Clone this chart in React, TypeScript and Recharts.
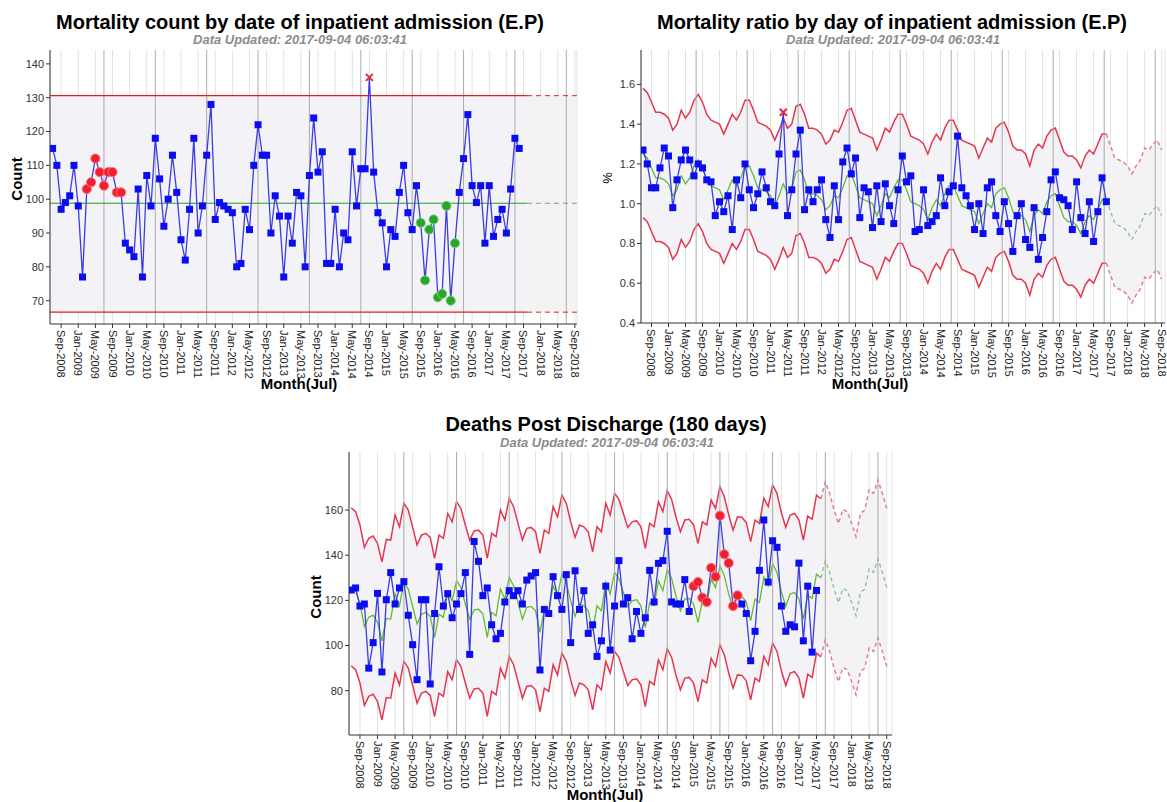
import React from 'react';
import {
  ComposedChart,
  Line,
  Area,
  XAxis,
  YAxis,
  CartesianGrid,
  ReferenceLine,
  ReferenceArea,
} from 'recharts';

// month index 0 = Jul-2008, 122 = Sep-2018
const tickLabels = [
  'Sep-2008', 'Jan-2009', 'May-2009', 'Sep-2009', 'Jan-2010', 'May-2010', 'Sep-2010',
  'Jan-2011', 'May-2011', 'Sep-2011', 'Jan-2012', 'May-2012', 'Sep-2012', 'Jan-2013',
  'May-2013', 'Sep-2013', 'Jan-2014', 'May-2014', 'Sep-2014', 'Jan-2015', 'May-2015',
  'Sep-2015', 'Jan-2016', 'May-2016', 'Sep-2016', 'Jan-2017', 'May-2017', 'Sep-2017',
  'Jan-2018', 'May-2018', 'Sep-2018',
];
const tickMonths = tickLabels.map((_, i) => 2 + 4 * i);
const julyMonths = [12, 24, 36, 48, 60, 72, 84, 96, 108, 120];
const lastMonth = 122;

// panel 1: mortality count
const admCounts = [
  115, 110, 97, 99, 101, 110, 98, 77, 103, 105,
  112, 108, 104, 108, 108, 102, 102, 87, 85, 83,
  103, 77, 107, 98, 118, 106, 92, 100, 113, 102,
  88, 82, 97, 118, 90, 98, 113, 128, 94, 99,
  98, 97, 96, 80, 81, 97, 91, 110, 122, 113,
  113, 90, 101, 95, 77, 95, 87, 102, 101, 80,
  107, 124, 108, 114, 81, 81, 97, 80, 90, 88,
  114, 98, 109, 109, 136, 108, 96, 93, 80, 91,
  89, 102, 110, 96, 91, 104, 93, 76, 91, 94,
  71, 72, 98, 70, 87, 102, 112, 125, 104, 99,
  104, 87, 104, 89, 94, 97, 90, 103, 118, 115,
];
const admCentre = 98.8;
const admUpper = 130.6;
const admLower = 66.6;
const admRedRun = [8, 16];
const admGreenRun = [86, 94];
const admOutlier = 74;

// panel 2: mortality ratio
const ratioValues = [
  1.27, 1.2, 1.08, 1.08, 1.18, 1.28, 1.24, 0.98, 1.12, 1.22,
  1.27, 1.22, 1.14, 1.2, 1.18, 1.12, 1.11, 0.94, 1.01, 0.96,
  1.04, 0.87, 1.12, 1.03, 1.2, 1.07, 0.98, 1.05, 1.16, 1.08,
  1.01, 0.99, 1.25, 1.46, 0.94, 1.07, 1.25, 1.37, 0.97, 1.07,
  1.01, 1.07, 1.12, 0.92, 0.83, 1.09, 0.92, 1.21, 1.28, 1.15,
  1.23, 0.93, 1.08, 1.06, 0.88, 1.09, 0.91, 1.1, 0.99, 0.9,
  1.07, 1.24, 1.11, 1.14, 0.86, 0.87, 1.07, 0.89, 0.91, 0.94,
  1.13, 0.99, 1.06, 1.09, 1.34, 1.08, 1.04, 0.99, 0.87, 1.0,
  0.85, 1.08, 1.11, 0.94, 0.86, 1.01, 0.9, 0.76, 0.94, 1.0,
  0.82, 0.78, 0.98, 0.72, 0.83, 0.96, 1.12, 1.16, 1.03, 1.02,
  0.99, 0.87, 1.11, 0.93, 0.85, 1.01, 0.81, 0.96, 1.13, 1.01,
];
const ratioUpper = [
  1.58, 1.56, 1.51, 1.46, 1.46, 1.45, 1.43, 1.37, 1.4, 1.47,
  1.43, 1.46, 1.52, 1.55, 1.51, 1.45, 1.42, 1.41, 1.4, 1.35,
  1.4, 1.45, 1.42, 1.46, 1.52, 1.52, 1.47, 1.41, 1.4, 1.39,
  1.37, 1.32, 1.37, 1.43, 1.38, 1.4, 1.49, 1.5, 1.45, 1.38,
  1.38, 1.37, 1.35, 1.3, 1.32, 1.37, 1.36, 1.41, 1.47, 1.48,
  1.42, 1.36, 1.35, 1.34, 1.33, 1.27, 1.32, 1.38, 1.36, 1.41,
  1.45, 1.45, 1.4, 1.34, 1.33, 1.32, 1.3, 1.25, 1.31, 1.35,
  1.32, 1.38, 1.42, 1.42, 1.37, 1.32, 1.31, 1.3, 1.29, 1.23,
  1.28, 1.33, 1.31, 1.38, 1.4, 1.41, 1.36, 1.29, 1.27, 1.27,
  1.25, 1.19, 1.27, 1.3, 1.28, 1.34, 1.37, 1.38, 1.32, 1.26,
  1.24, 1.24, 1.22, 1.18, 1.24, 1.27, 1.25, 1.3, 1.35, 1.35,
  1.29, 1.23, 1.22, 1.21, 1.19, 1.15, 1.19, 1.22, 1.28, 1.27,
  1.3, 1.32, 1.27,
];
const ratioExpected = [
  1.25, 1.23, 1.18, 1.13, 1.13, 1.12, 1.1, 1.04, 1.07, 1.14,
  1.1, 1.13, 1.19, 1.22, 1.18, 1.12, 1.09, 1.08, 1.07, 1.02,
  1.07, 1.12, 1.09, 1.13, 1.19, 1.19, 1.14, 1.08, 1.07, 1.06,
  1.04, 0.99, 1.04, 1.1, 1.05, 1.07, 1.16, 1.17, 1.12, 1.05,
  1.05, 1.04, 1.02, 0.97, 0.99, 1.04, 1.03, 1.08, 1.14, 1.15,
  1.09, 1.03, 1.02, 1.01, 1.0, 0.94, 0.99, 1.05, 1.03, 1.08,
  1.12, 1.12, 1.07, 1.01, 1.0, 0.99, 0.97, 0.92, 0.98, 1.02,
  0.99, 1.05, 1.09, 1.09, 1.04, 0.99, 0.98, 0.97, 0.96, 0.9,
  0.95, 1.0, 0.98, 1.05, 1.07, 1.08, 1.03, 0.96, 0.94, 0.94,
  0.92, 0.86, 0.94, 0.97, 0.95, 1.01, 1.04, 1.05, 0.99, 0.93,
  0.91, 0.91, 0.89, 0.85, 0.91, 0.94, 0.92, 0.97, 1.02, 1.02,
  0.96, 0.9, 0.89, 0.88, 0.86, 0.82, 0.86, 0.89, 0.95, 0.94,
  0.97, 0.99, 0.94,
];
const ratioLower = [
  0.93, 0.91, 0.86, 0.81, 0.81, 0.8, 0.78, 0.72, 0.75, 0.82,
  0.78, 0.81, 0.87, 0.9, 0.86, 0.8, 0.77, 0.76, 0.75, 0.7,
  0.75, 0.8, 0.77, 0.81, 0.87, 0.87, 0.82, 0.76, 0.75, 0.74,
  0.72, 0.67, 0.72, 0.78, 0.73, 0.75, 0.84, 0.85, 0.8, 0.73,
  0.73, 0.72, 0.7, 0.65, 0.67, 0.72, 0.71, 0.76, 0.82, 0.83,
  0.77, 0.71, 0.7, 0.69, 0.68, 0.62, 0.67, 0.73, 0.71, 0.76,
  0.8, 0.8, 0.75, 0.69, 0.68, 0.67, 0.65, 0.6, 0.66, 0.7,
  0.67, 0.73, 0.77, 0.77, 0.72, 0.67, 0.66, 0.65, 0.64, 0.58,
  0.63, 0.68, 0.66, 0.73, 0.75, 0.76, 0.71, 0.64, 0.62, 0.62,
  0.6, 0.54, 0.62, 0.65, 0.63, 0.69, 0.72, 0.73, 0.67, 0.61,
  0.59, 0.59, 0.57, 0.53, 0.59, 0.62, 0.6, 0.65, 0.7, 0.7,
  0.64, 0.58, 0.57, 0.56, 0.54, 0.5, 0.54, 0.57, 0.63, 0.62,
  0.65, 0.67, 0.62,
];
const ratioOutlier = 33;
const ratioSolidEnd = 109;

// panel 3: deaths post discharge
const deathValues = [
  124.6, 125.5, 117.5, 118.4, 90, 101.3, 123.1, 88.3, 120.3, 132.3,
  118.4, 125.5, 128.3, 113.4, 100.4, 84.9, 120.3, 120.3, 83, 114.2,
  134.9, 117.5, 123, 112.3, 118.4, 123, 132.3, 96.1, 146.1, 137.3,
  122.1, 125.5, 109.2, 103, 105.4, 119.3, 124.3, 122.1, 124.3, 118.4,
  129, 130.8, 132.3, 89.2, 116, 114.2, 130.5, 122.1, 116, 131.4,
  101.3, 133.1, 116, 124.3, 105.4, 109.2, 95.2, 102.1, 126.3, 98,
  117.5, 137.6, 118.4, 121.2, 103, 115.1, 105.4, 112.3, 133.3, 119.3,
  136.4, 137.6, 150.6, 119.3, 118.4, 118.4, 129.2, 115.1, 126.3, 128.1,
  121.2, 119.3, 134.4, 130.5, 157.5, 140.4, 136.5, 117.5, 122.2, 118.4,
  114.2, 93.3, 106.3, 133.3, 155.6, 128.1, 146.4, 143.5, 117.5, 106.3,
  109.2, 108.3, 136.5, 102.1, 126.3, 97.1, 124.4,
];
const deathUpper = [
  161.0, 159.3, 153.4, 143.5, 147.5, 148.5, 145.2, 137.1, 147.0, 146.7,
  157.8, 152.6, 163.0, 160.0, 152.3, 144.5, 148.9, 149.7, 147.9, 138.6,
  148.9, 147.5, 158.5, 154.8, 163.7, 160.7, 153.4, 146.7, 150.8, 151.1,
  148.9, 138.6, 149.7, 148.2, 160.0, 155.6, 165.2, 161.5, 154.1, 146.7,
  151.9, 152.3, 150.4, 140.8, 151.1, 149.7, 161.5, 157.0, 166.6, 163.0,
  154.8, 147.9, 153.4, 152.6, 150.4, 141.5, 152.6, 150.4, 163.0, 157.8,
  167.4, 164.7, 158.5, 152.3, 154.8, 155.3, 152.6, 143.0, 154.1, 152.6,
  163.7, 159.3, 168.6, 164.7, 156.8, 150.4, 155.6, 155.9, 153.4, 145.2,
  154.8, 153.4, 164.4, 160.7, 170.3, 165.9, 157.8, 151.1, 157.0, 156.8,
  154.4, 146.0, 155.6, 154.1, 165.2, 161.5, 171.1, 167.4, 158.8, 152.3,
  157.8, 158.5, 155.6, 146.7, 157.3, 155.9, 166.6, 165.0, 172.5, 167.4,
  160.0, 154.0, 160.3, 159.3, 154.0, 148.2, 158.5, 160.0, 168.9, 167.4,
  173.3, 167.4, 160.7,
];
const deathExpected = [
  126.0, 124.3, 118.4, 108.5, 112.5, 113.5, 110.2, 102.1, 112.0, 111.7,
  122.8, 117.6, 128.0, 125.0, 117.3, 109.5, 113.9, 114.7, 112.9, 103.6,
  113.9, 112.5, 123.5, 119.8, 128.7, 125.7, 118.4, 111.7, 115.8, 116.1,
  113.9, 103.6, 114.7, 113.2, 125.0, 120.6, 130.2, 126.5, 119.1, 111.7,
  116.9, 117.3, 115.4, 105.8, 116.1, 114.7, 126.5, 122.0, 131.6, 128.0,
  119.8, 112.9, 118.4, 117.6, 115.4, 106.5, 117.6, 115.4, 128.0, 122.8,
  132.4, 129.7, 123.5, 117.3, 119.8, 120.3, 117.6, 108.0, 119.1, 117.6,
  128.7, 124.3, 133.6, 129.7, 121.8, 115.4, 120.6, 120.9, 118.4, 110.2,
  119.8, 118.4, 129.4, 125.7, 135.3, 130.9, 122.8, 116.1, 122.0, 121.8,
  119.4, 111.0, 120.6, 119.1, 130.2, 126.5, 136.1, 132.4, 123.8, 117.3,
  122.8, 123.5, 120.6, 111.7, 122.3, 120.9, 131.6, 130.0, 137.5, 132.4,
  125.0, 119.0, 125.3, 124.3, 119.0, 113.2, 123.5, 125.0, 133.9, 132.4,
  138.3, 132.4, 125.7,
];
const deathLower = [
  91.0, 89.3, 83.4, 73.5, 77.5, 78.5, 75.2, 67.1, 77.0, 76.7,
  87.8, 82.6, 93.0, 90.0, 82.3, 74.5, 78.9, 79.7, 77.9, 68.6,
  78.9, 77.5, 88.5, 84.8, 93.7, 90.7, 83.4, 76.7, 80.8, 81.1,
  78.9, 68.6, 79.7, 78.2, 90.0, 85.6, 95.2, 91.5, 84.1, 76.7,
  81.9, 82.3, 80.4, 70.8, 81.1, 79.7, 91.5, 87.0, 96.6, 93.0,
  84.8, 77.9, 83.4, 82.6, 80.4, 71.5, 82.6, 80.4, 93.0, 87.8,
  97.4, 94.7, 88.5, 82.3, 84.8, 85.3, 82.6, 73.0, 84.1, 82.6,
  93.7, 89.3, 98.6, 94.7, 86.8, 80.4, 85.6, 85.9, 83.4, 75.2,
  84.8, 83.4, 94.4, 90.7, 100.3, 95.9, 87.8, 81.1, 87.0, 86.8,
  84.4, 76.0, 85.6, 84.1, 95.2, 91.5, 101.1, 97.4, 88.8, 82.3,
  87.8, 88.5, 85.6, 76.7, 87.3, 85.9, 96.6, 95.0, 102.5, 97.4,
  90.0, 84.0, 90.3, 89.3, 84.0, 78.2, 88.5, 90.0, 98.9, 97.4,
  103.3, 97.4, 90.7,
];
const deathRedRun = [78, 88];
const deathSolidEnd = 107;

const FONT = '"Liberation Sans", Arial, Helvetica, sans-serif';
const BLUE_LINE = '#3c3ce4';
const BLUE_MARK = '#0c0cf0';
const RED_LIMIT = '#e4364f';
const GREEN_LINE = '#62bb2e';
const BAND = '#f3f3f7';
const BAND_FORECAST = '#f3f3f3';
const GRID = '#e2e2e2';
const YEAR_LINE = '#ababab';

type Row = {
  m: number;
  value: number | null;
  upper?: number;
  expected?: number;
  lower?: number;
};

const buildRows = (values: number[], upper?: number[], expected?: number[], lower?: number[]): Row[] =>
  Array.from({ length: lastMonth + 1 }, (_, m) => ({
    m,
    value: m < values.length ? values[m] : null,
    upper: upper?.[m],
    expected: expected?.[m],
    lower: lower?.[m],
  }));

const inRun = (i: number, run: number[]) => i >= run[0] && i <= run[1];

type Kind = 'square' | 'red' | 'green' | 'cross';

const makeDot = (kindOf: (i: number) => Kind) => (props: any) => {
  const { cx, cy, index, value } = props;
  if (cx == null || cy == null || value == null) return <g key={`e${index}`} />;
  const kind = kindOf(index);
  if (kind === 'red') {
    return <circle key={`d${index}`} cx={cx} cy={cy} r={4.6} fill="#f0202e" stroke="#ff7080" strokeWidth={1} />;
  }
  if (kind === 'green') {
    return <circle key={`d${index}`} cx={cx} cy={cy} r={4.6} fill="#2aa52a" stroke="#80d080" strokeWidth={1} />;
  }
  if (kind === 'cross') {
    return (
      <g key={`d${index}`} stroke="#e8283c" strokeWidth={2}>
        <line x1={cx - 3.5} y1={cy - 3.5} x2={cx + 3.5} y2={cy + 3.5} />
        <line x1={cx - 3.5} y1={cy + 3.5} x2={cx + 3.5} y2={cy - 3.5} />
      </g>
    );
  }
  return <rect key={`d${index}`} x={cx - 3.5} y={cy - 3.5} width={7} height={7} fill={BLUE_MARK} />;
};

const MonthTick = (props: any) => {
  const { x, y, payload } = props;
  const label = tickLabels[tickMonths.indexOf(payload.value)] ?? '';
  return (
    <text
      x={x}
      y={y}
      dx={0}
      dy={4}
      transform={`rotate(90 ${x} ${y})`}
      fontSize={11}
      fill="#222"
      textAnchor="start"
    >
      {label}
    </text>
  );
};

const xAxisProps = {
  dataKey: 'm',
  type: 'number' as const,
  ticks: tickMonths,
  interval: 0 as const,
  allowDataOverflow: true,
  tick: <MonthTick />,
  tickSize: 4,
  stroke: '#333',
  height: 60,
};

const yTick = { fontSize: 11, fill: '#333' };

function CountChart() {
  const rows = buildRows(admCounts);
  const dot = makeDot((i) =>
    i === admOutlier ? 'cross' : inRun(i, admRedRun) ? 'red' : inRun(i, admGreenRun) ? 'green' : 'square'
  );
  return (
    <ComposedChart width={600} height={400} data={rows} margin={{ top: 50, right: 23, bottom: 16, left: 0 }}>
      <ReferenceArea x1={-0.6} x2={110.8} y1={admLower} y2={admUpper} fill={BAND} fillOpacity={1} stroke="none" />
      <ReferenceArea x1={110.8} x2={122.5} y1={admLower} y2={admUpper} fill={BAND_FORECAST} fillOpacity={1} stroke="none" />
      <CartesianGrid horizontal={false} stroke={GRID} />
      {julyMonths.map((m) => (
        <ReferenceLine key={m} x={m} stroke={YEAR_LINE} />
      ))}
      <XAxis {...xAxisProps} domain={[-0.6, 122.5]} />
      <YAxis
        type="number"
        domain={[63.1, 144.1]}
        ticks={[70, 80, 90, 100, 110, 120, 130, 140]}
        interval={0}
        allowDataOverflow
        width={50}
        tickSize={4}
        stroke="#333"
        tick={yTick}
      />
      <ReferenceLine segment={[{ x: -0.6, y: admUpper }, { x: 110.8, y: admUpper }]} stroke="#e02020" strokeWidth={1.4} />
      <ReferenceLine segment={[{ x: 110.8, y: admUpper }, { x: 122.5, y: admUpper }]} stroke="#e02020" strokeDasharray="5 4" />
      <ReferenceLine segment={[{ x: -0.6, y: admLower }, { x: 110.8, y: admLower }]} stroke="#e02020" strokeWidth={1.4} />
      <ReferenceLine segment={[{ x: 110.8, y: admLower }, { x: 122.5, y: admLower }]} stroke="#e02020" strokeDasharray="5 4" />
      <ReferenceLine segment={[{ x: -0.6, y: admCentre }, { x: 110.8, y: admCentre }]} stroke="#2a9a2a" />
      <ReferenceLine segment={[{ x: 110.8, y: admCentre }, { x: 122.5, y: admCentre }]} stroke="#7aa07a" strokeDasharray="5 4" />
      <Line
        dataKey="value"
        stroke={BLUE_LINE}
        strokeWidth={1.3}
        dot={dot}
        activeDot={false}
        isAnimationActive={false}
      />
    </ComposedChart>
  );
}

function limitSeries(solidEnd: number) {
  const solid = (key: 'upper' | 'expected' | 'lower') => (d: Row) => (d.m <= solidEnd ? d[key] ?? null : null);
  const dashed = (key: 'upper' | 'expected' | 'lower') => (d: Row) => (d.m >= solidEnd ? d[key] ?? null : null);
  return [
    <Area
      key="band"
      dataKey={(d: Row) => (d.m <= solidEnd ? [d.lower, d.upper] : null)}
      fill={BAND}
      fillOpacity={1}
      stroke="none"
      activeDot={false}
      isAnimationActive={false}
    />,
    <Area
      key="bandF"
      dataKey={(d: Row) => (d.m >= solidEnd ? [d.lower, d.upper] : null)}
      fill={BAND_FORECAST}
      fillOpacity={1}
      stroke="none"
      activeDot={false}
      isAnimationActive={false}
    />,
    <Line key="up" dataKey={solid('upper')} stroke={RED_LIMIT} strokeWidth={1.5} dot={false} activeDot={false} isAnimationActive={false} />,
    <Line key="lo" dataKey={solid('lower')} stroke={RED_LIMIT} strokeWidth={1.5} dot={false} activeDot={false} isAnimationActive={false} />,
    <Line key="ex" dataKey={solid('expected')} stroke={GREEN_LINE} strokeWidth={1.3} dot={false} activeDot={false} isAnimationActive={false} />,
    <Line key="upF" dataKey={dashed('upper')} stroke="#e4808f" strokeWidth={1.5} strokeDasharray="4 3" dot={false} activeDot={false} isAnimationActive={false} />,
    <Line key="loF" dataKey={dashed('lower')} stroke="#e4808f" strokeWidth={1.5} strokeDasharray="4 3" dot={false} activeDot={false} isAnimationActive={false} />,
    <Line key="exF" dataKey={dashed('expected')} stroke="#8abf9a" strokeWidth={1.3} strokeDasharray="4 3" dot={false} activeDot={false} isAnimationActive={false} />,
  ];
}

function RatioChart() {
  const rows = buildRows(ratioValues, ratioUpper, ratioExpected, ratioLower);
  const dot = makeDot((i) => (i === ratioOutlier ? 'cross' : 'square'));
  return (
    <ComposedChart width={577} height={400} data={rows} margin={{ top: 50, right: 2, bottom: 17, left: 0 }}>
      {limitSeries(ratioSolidEnd)}
      <CartesianGrid horizontal={false} stroke={GRID} />
      {julyMonths.map((m) => (
        <ReferenceLine key={m} x={m + 0.5} stroke={YEAR_LINE} />
      ))}
      <XAxis {...xAxisProps} domain={[-0.47, 122.8]} />
      <YAxis
        type="number"
        domain={[0.4, 1.773]}
        ticks={[0.4, 0.6, 0.8, 1.0, 1.2, 1.4, 1.6]}
        tickFormatter={(v: number) => v.toFixed(1)}
        interval={0}
        allowDataOverflow
        width={51}
        tickSize={4}
        stroke="#333"
        tick={yTick}
      />
      <Line dataKey="value" stroke={BLUE_LINE} strokeWidth={1.3} dot={dot} activeDot={false} isAnimationActive={false} />
    </ComposedChart>
  );
}

function DeathsChart() {
  const rows = buildRows(deathValues, deathUpper, deathExpected, deathLower);
  const dot = makeDot((i) => (inRun(i, deathRedRun) ? 'red' : 'square'));
  return (
    <ComposedChart width={600} height={362} data={rows} margin={{ top: 12, right: 8, bottom: 12, left: 0 }}>
      {limitSeries(deathSolidEnd)}
      <CartesianGrid horizontal={false} stroke={GRID} />
      {julyMonths.map((m) => (
        <ReferenceLine key={m} x={m} stroke={YEAR_LINE} />
      ))}
      <XAxis {...xAxisProps} height={55} domain={[-0.5, 123.2]} />
      <YAxis
        type="number"
        domain={[60.4, 185.7]}
        ticks={[80, 100, 120, 140, 160]}
        interval={0}
        allowDataOverflow
        width={49}
        tickSize={4}
        stroke="#333"
        tick={yTick}
      />
      <Line dataKey="value" stroke={BLUE_LINE} strokeWidth={1.3} dot={dot} activeDot={false} isAnimationActive={false} />
    </ComposedChart>
  );
}

const subtitle = 'Data Updated: 2017-09-04 06:03:41';

export default function App() {
  return (
    <div style={{ position: 'absolute', left: 0, top: 0, width: 1167, height: 802, background: '#fff', fontFamily: FONT, overflow: 'hidden' }}>
      <div style={{ position: 'absolute', left: 0, top: 0 }}>
        <CountChart />
      </div>
      <div style={{ position: 'absolute', left: 590, top: 0 }}>
        <RatioChart />
      </div>
      <div style={{ position: 'absolute', left: 300, top: 440 }}>
        <DeathsChart />
      </div>
      <svg width={1167} height={802} style={{ position: 'absolute', left: 0, top: 0, pointerEvents: 'none' }} fontFamily={FONT}>
        <text x={300} y={29} textAnchor="middle" fontSize={20} fontWeight="bold" fill="#000">
          Mortality count by date of inpatient admission (E.P)
        </text>
        <text x={300} y={44} textAnchor="middle" fontSize={13} fontWeight="bold" fontStyle="italic" fill="#8c8c8c">
          {subtitle}
        </text>
        <text x={892} y={29} textAnchor="middle" fontSize={20} fontWeight="bold" fill="#000">
          Mortality ratio by day of inpatient admission (E.P)
        </text>
        <text x={893} y={44} textAnchor="middle" fontSize={13} fontWeight="bold" fontStyle="italic" fill="#8c8c8c">
          {subtitle}
        </text>
        <text x={606} y={431} textAnchor="middle" fontSize={20} fontWeight="bold" fill="#000">
          Deaths Post Discharge (180 days)
        </text>
        <text x={607} y={447} textAnchor="middle" fontSize={13} fontWeight="bold" fontStyle="italic" fill="#8c8c8c">
          {subtitle}
        </text>
        <text x={299} y={389} textAnchor="middle" fontSize={15} fontWeight="bold" fill="#000">
          Month(Jul)
        </text>
        <text x={870} y={389} textAnchor="middle" fontSize={15} fontWeight="bold" fill="#000">
          Month(Jul)
        </text>
        <text x={605} y={800} textAnchor="middle" fontSize={15} fontWeight="bold" fill="#000">
          Month(Jul)
        </text>
        <text x={22} y={179} transform="rotate(-90 22 179)" textAnchor="middle" fontSize={15} fontWeight="bold" fill="#000">
          Count
        </text>
        <text x={612} y={178} transform="rotate(-90 612 178)" textAnchor="middle" fontSize={13} fill="#000">
          %
        </text>
        <text x={321} y={597} transform="rotate(-90 321 597)" textAnchor="middle" fontSize={15} fontWeight="bold" fill="#000">
          Count
        </text>
      </svg>
    </div>
  );
}
